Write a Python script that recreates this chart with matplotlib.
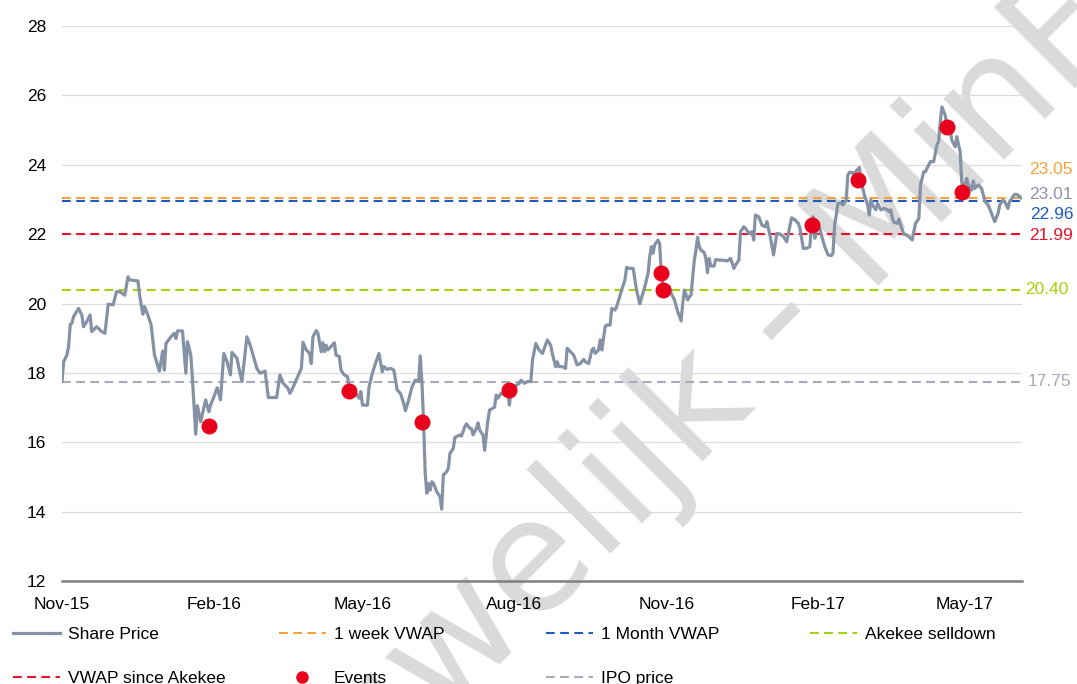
import matplotlib
matplotlib.use("Agg")
import matplotlib.pyplot as plt
import matplotlib.dates as mdates
from matplotlib.lines import Line2D
import pandas as pd

plt.rcParams['font.family'] = ['Liberation Sans', 'DejaVu Sans']

# ---------------- data ----------------
start_date = "2015-11-01"
axis_days = 581.5  # visible span of the date axis in days

# share price: days since start_date, price
price_days = [
    0, 1, 3, 4, 5, 6, 7, 10, 11, 12, 13, 15, 17, 18, 21, 24, 26, 28, 31, 33, 35, 38, 40, 41, 46, 47, 49, 50,
    52, 54, 56, 59, 61, 62, 63, 66, 68, 69, 70, 73, 75, 76, 78, 79, 81, 82, 84, 87, 89, 90, 92, 94, 96, 98,
    100, 102, 103, 106, 107, 109, 112, 114, 116, 118, 120, 123, 125, 130, 132, 134, 137, 138, 139, 141, 145,
    146, 148, 150, 151, 152, 154, 155, 157, 158, 159, 160, 161, 163, 165, 166, 168, 169, 171, 173, 174, 176,
    178, 180, 181, 182, 185, 186, 188, 190, 192, 194, 195, 197, 199, 201, 203, 205, 207, 208, 210, 212, 214,
    216, 217, 218, 219, 220, 221, 222, 223, 224, 225, 227, 229, 230, 231, 233, 234, 235, 237, 238, 241, 242,
    244, 245, 247, 248, 249, 251, 252, 253, 255, 256, 258, 259, 262, 263, 264, 266, 268, 269, 270, 271, 272,
    274, 277, 278, 280, 282, 284, 285, 287, 289, 291, 294, 296, 297, 299, 300, 301, 303, 305, 306, 308, 310,
    312, 314, 316, 317, 319, 321, 322, 323, 325, 326, 327, 329, 330, 332, 333, 335, 336, 339, 341, 342, 344,
    346, 348, 350, 353, 355, 356, 357, 358, 359, 361, 362, 363, 364, 366, 368, 369, 371, 373, 375, 376, 377,
    379, 380, 381, 383, 384, 385, 386, 387, 389, 390, 391, 392, 393, 395, 396, 398, 400, 403, 405, 407, 408,
    410, 411, 413, 414, 416, 418, 419, 420, 422, 424, 426, 427, 429, 431, 433, 435, 437, 439, 441, 442, 444,
    446, 447, 449, 451, 453, 454, 455, 456, 457, 459, 460, 462, 464, 466, 467, 468, 469, 470, 472, 473, 475,
    476, 477, 479, 480, 481, 483, 484, 486, 488, 489, 490, 491, 493, 494, 496, 498, 500, 501, 502, 503, 504,
    506, 507, 508, 510, 511, 513, 515, 517, 519, 520, 522, 523, 524, 526, 527, 528, 530, 531, 532, 533, 535,
    536, 538, 539, 541, 542, 544, 545, 546, 547, 548, 549, 551, 552, 553, 555, 556, 557, 559, 561, 563, 565,
    567, 568, 570, 571, 573, 574, 576, 577, 579, 580, 582,
]
price_values = [
    17.75, 18.32, 18.52, 18.76, 19.40, 19.43, 19.62, 19.86, 19.76, 19.67, 19.33, 19.48, 19.67, 19.19, 19.33,
    19.19, 19.14, 19.98, 19.96, 20.34, 20.34, 20.24, 20.77, 20.68, 20.65, 20.24, 19.69, 19.91, 19.67, 19.38,
    18.52, 18.05, 18.63, 18.08, 18.85, 19.04, 19.14, 18.99, 19.21, 19.21, 17.99, 18.90, 18.52, 17.84, 16.23,
    17.05, 16.59, 17.22, 16.88, 17.07, 17.31, 17.57, 17.22, 18.56, 18.32, 17.94, 18.59, 18.42, 18.18, 17.75,
    19.04, 18.80, 18.47, 18.13, 17.99, 18.05, 17.29, 17.29, 17.94, 17.70, 17.55, 17.41, 17.48, 17.70, 18.13,
    18.88, 18.66, 18.56, 18.27, 19.04, 19.22, 19.14, 18.61, 18.87, 18.61, 18.80, 18.66, 18.76, 18.87, 18.51,
    18.47, 18.08, 17.94, 17.89, 17.48, 17.36, 17.41, 17.27, 17.46, 17.07, 17.07, 17.60, 17.99, 18.29, 18.56,
    18.03, 18.18, 18.10, 18.13, 18.08, 17.51, 17.41, 17.12, 16.91, 17.22, 17.60, 17.79, 17.75, 18.49, 17.75,
    16.59, 15.10, 14.53, 14.81, 14.62, 14.86, 14.82, 14.57, 14.43, 14.07, 15.06, 15.15, 15.25, 15.68, 15.82,
    16.14, 16.21, 16.18, 16.45, 16.53, 16.40, 16.40, 16.21, 16.40, 16.56, 16.35, 16.21, 15.77, 16.64, 16.93,
    17.01, 17.36, 17.27, 17.41, 17.36, 17.43, 17.51, 17.07, 17.51, 17.60, 17.70, 17.79, 17.70, 17.75, 17.75,
    18.37, 18.85, 18.66, 18.56, 18.95, 18.80, 18.56, 18.18, 18.32, 18.18, 18.18, 18.13, 18.71, 18.61, 18.51,
    18.23, 18.27, 18.39, 18.32, 18.27, 18.66, 18.71, 18.56, 18.66, 18.95, 18.66, 19.33, 19.38, 19.38, 19.86,
    19.81, 19.91, 20.39, 20.68, 21.04, 21.01, 21.01, 20.39, 19.99, 20.48, 20.87, 21.35, 21.64, 21.45, 21.69,
    21.83, 21.73, 20.87, 20.50, 20.48, 20.48, 20.29, 20.10, 19.76, 19.50, 20.00, 20.39, 20.10, 20.20, 20.24,
    21.25, 21.54, 21.91, 21.64, 21.54, 21.47, 21.30, 20.89, 21.30, 21.08, 21.08, 21.27, 21.25, 21.25, 21.23,
    21.30, 21.01, 21.11, 21.25, 22.07, 22.21, 22.17, 22.02, 22.07, 21.83, 22.55, 22.50, 22.26, 22.21, 22.36,
    21.93, 21.40, 22.02, 22.00, 21.93, 21.78, 22.26, 22.47, 22.41, 22.31, 22.17, 21.59, 21.59, 21.64, 22.26,
    22.50, 21.88, 22.12, 22.17, 21.97, 21.64, 21.40, 21.38, 21.45, 22.26, 22.55, 22.89, 22.89, 22.84, 22.98,
    23.70, 23.78, 23.78, 23.61, 23.82, 23.92, 23.53, 23.13, 22.84, 22.55, 22.98, 22.84, 22.70, 22.89, 22.70,
    22.74, 22.70, 22.65, 22.70, 22.45, 22.34, 22.31, 22.43, 22.26, 21.99, 21.99, 21.93, 21.83, 22.31, 22.45,
    23.42, 23.80, 23.80, 23.90, 24.09, 24.09, 24.09, 24.57, 24.67, 25.24, 25.67, 25.43, 25.10, 25.00, 24.71,
    24.52, 24.81, 24.38, 23.51, 23.32, 23.46, 23.61, 23.42, 23.27, 23.53, 23.32, 23.42, 23.37, 23.32, 22.95,
    22.84, 22.60, 22.36, 22.60, 22.84, 22.98, 22.94, 22.74, 22.94, 23.08, 23.15, 23.13, 23.08, 23.01,
]

# events: days since start_date, price
event_days = [89, 174, 218, 271, 363, 364, 454, 482, 536, 545]
event_values = [16.48, 17.48, 16.59, 17.51, 20.89, 20.39, 22.26, 23.55, 25.09, 23.22]

# reference levels
ref_names = ["1 week VWAP", "1 Month VWAP", "Akekee selldown", "VWAP since Akekee", "IPO price"]
ref_values = [23.05, 22.96, 20.40, 21.99, 17.75]
last_price = 23.01

y_ticks = [12, 14, 16, 18, 20, 22, 24, 26, 28]

# ---------------- styles ----------------
price_color = "#8591A4"
event_color = "#E8001C"
ref_colors = {
    "1 week VWAP": "#F7A33C",
    "1 Month VWAP": "#1F5BC4",
    "Akekee selldown": "#A3D20A",
    "VWAP since Akekee": "#E8102A",
    "IPO price": "#A7AAB8",
}
label_offsets = {  # (dx, dy) in points for the right-hand value labels
    "1 week VWAP": (5, 20.5),
    "1 Month VWAP": (5.5, -9.5),
    "Akekee selldown": (2, 0),
    "VWAP since Akekee": (5, -1),
    "IPO price": (4, 0),
}
dash = (4.2, 2.6)
FS = 12.5

t0 = pd.Timestamp(start_date)
price_dates = t0 + pd.to_timedelta(price_days, unit="D")
event_dates = t0 + pd.to_timedelta(event_days, unit="D")

fig = plt.figure(figsize=(10.77, 6.84), dpi=100)
ax = fig.add_axes([62 / 1077, 1 - 581 / 684, (1022 - 62) / 1077, (581 - 26) / 684])
ax.set_facecolor("none")

# watermark (behind the plot)
fig.text(0.556, 0.262, "Vertrouwelijk - MinFin", rotation=45, rotation_mode="anchor",
         fontsize=113, family="DejaVu Sans", color="#DADADA", ha="center", va="center",
         zorder=-5)

# reference lines
for name, val in zip(ref_names, ref_values):
    ax.axhline(val, color=ref_colors[name], lw=1.5, dashes=dash, zorder=2)

# price and events
ax.plot(price_dates, price_values, color=price_color, lw=2.3, zorder=3,
        solid_joinstyle="round")
ax.plot(event_dates, event_values, ls="none", marker="o", ms=10.5,
        color=event_color, mec=event_color, zorder=4)

# right-hand labels
for name, val in zip(ref_names, ref_values):
    dx, dy = label_offsets[name]
    ax.annotate(f"{val:.2f}", xy=(1, val), xycoords=("axes fraction", "data"),
                xytext=(dx, dy), textcoords="offset points", ha="left", va="center",
                fontsize=FS, color=ref_colors[name], annotation_clip=False)
ax.annotate(f"{last_price:.2f}", xy=(1, last_price), xycoords=("axes fraction", "data"),
            xytext=(5, 3), textcoords="offset points", ha="left", va="center",
            fontsize=FS, color="#8C95A3", annotation_clip=False)

# axes styling
x0 = mdates.date2num(t0)
ax.set_xlim(x0, x0 + axis_days)
ax.set_ylim(y_ticks[0], y_ticks[-1])
ax.set_yticks(y_ticks)
ax.xaxis.set_major_locator(mdates.MonthLocator(bymonth=[2, 5, 8, 11]))
ax.xaxis.set_major_formatter(mdates.DateFormatter("%b-%y"))
ax.grid(axis="y", color="#DCDCDC", lw=0.9, zorder=0)
ax.set_axisbelow(True)
for s in ["top", "right", "left"]:
    ax.spines[s].set_visible(False)
ax.spines["bottom"].set_color("#7F7F7F")
ax.spines["bottom"].set_linewidth(1.8)
ax.spines["bottom"].set_zorder(5)
ax.tick_params(axis="both", length=0, labelsize=FS, colors="black")
ax.tick_params(axis="y", pad=11.5)
ax.tick_params(axis="x", pad=11.5)

# legend (four columns, row-major like the original)
h_price = Line2D([], [], color=price_color, lw=2.3)
h_events = Line2D([], [], ls="none", marker="o", ms=8, color=event_color)
def h_ref(name):
    return Line2D([], [], color=ref_colors[name], lw=1.5, dashes=dash)

columns = [
    ([h_price, h_ref("VWAP since Akekee")], ["Share Price", "VWAP since Akekee"], 13),
    ([h_ref("1 week VWAP"), h_events], ["1 week VWAP", "Events"], 279),
    ([h_ref("1 Month VWAP"), h_ref("IPO price")], ["1 Month VWAP", "IPO price"], 546),
    ([h_ref("Akekee selldown")], ["Akekee selldown"], 810),
]
for handles, labels, xpx in columns:
    fig.legend(handles, labels, loc="upper left", bbox_to_anchor=(xpx / 1077, 1 - 627 / 684),
               frameon=False, fontsize=FS, handlelength=2.7, handletextpad=0.45,
               labelspacing=1.65, borderpad=0, borderaxespad=0, numpoints=1)

fig.savefig("out.png", dpi=100)
